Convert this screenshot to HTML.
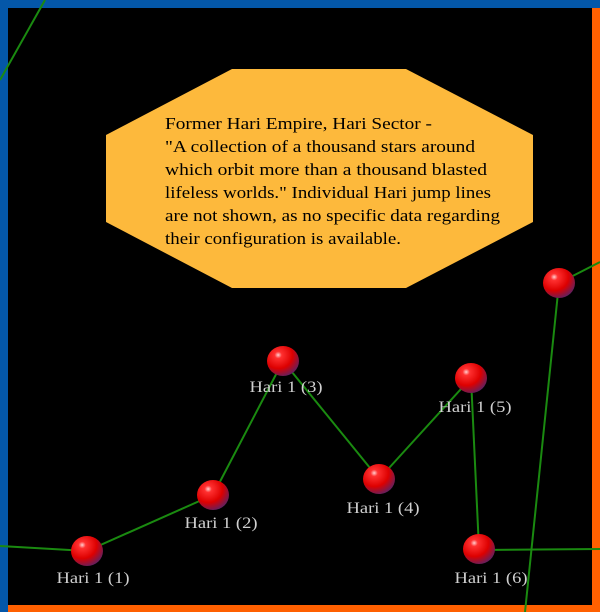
<!DOCTYPE html>
<html><head><style>html,body{margin:0;padding:0;background:#000;}</style></head>
<body>
<svg width="600" height="612" xmlns="http://www.w3.org/2000/svg" style="display:block">
<defs>
<radialGradient id="g" cx="0.35" cy="0.3" r="0.75">
<stop offset="0" stop-color="#ffd0d0"/>
<stop offset="0.15" stop-color="#ff3030"/>
<stop offset="0.6" stop-color="#dd0000"/>
<stop offset="1" stop-color="#602060"/>
</radialGradient>
</defs>
<rect width="600" height="612" fill="#000"/>
<rect x="0" y="0" width="600" height="8" fill="#0457a8"/>
<rect x="0" y="0" width="8" height="612" fill="#0457a8"/>
<rect x="592" y="8" width="8" height="604" fill="#ff6000"/>
<rect x="8" y="605" width="592" height="7" fill="#ff6000"/>
<g stroke="#1a8a10" stroke-width="2" fill="none">
<line x1="45" y1="0" x2="0" y2="80"/>
<line x1="0" y1="546" x2="87" y2="551"/>
<line x1="87" y1="551" x2="213" y2="495"/>
<line x1="213" y1="495" x2="283" y2="361"/>
<line x1="283" y1="361" x2="379" y2="479"/>
<line x1="379" y1="479" x2="471" y2="378"/>
<line x1="471" y1="378" x2="479" y2="549"/>
<line x1="479" y1="550" x2="600" y2="549"/>
<line x1="559" y1="283" x2="600" y2="262"/>
<line x1="559" y1="283" x2="525" y2="612"/>
</g>
<polygon points="232,69 406,69 533,135 533,222 406,288 232,288 106,222 106,135" fill="#fdb93c"/>
<g font-family="Liberation Serif, serif" font-size="16.5" fill="#000">
<text x="165" y="129" textLength="267" lengthAdjust="spacingAndGlyphs">Former Hari Empire, Hari Sector -</text>
<text x="165" y="152" textLength="310" lengthAdjust="spacingAndGlyphs">"A collection of a thousand stars around</text>
<text x="165" y="175" textLength="322" lengthAdjust="spacingAndGlyphs">which orbit more than a thousand blasted</text>
<text x="165" y="198" textLength="326" lengthAdjust="spacingAndGlyphs">lifeless worlds." Individual Hari jump lines</text>
<text x="165" y="221" textLength="335" lengthAdjust="spacingAndGlyphs">are not shown, as no specific data regarding</text>
<text x="165" y="244" textLength="236" lengthAdjust="spacingAndGlyphs">their configuration is available.</text>
</g>
<g fill="url(#g)">
<ellipse cx="87" cy="551" rx="16" ry="15"/>
<ellipse cx="213" cy="495" rx="16" ry="15"/>
<ellipse cx="283" cy="361" rx="16" ry="15"/>
<ellipse cx="379" cy="479" rx="16" ry="15"/>
<ellipse cx="471" cy="378" rx="16" ry="15"/>
<ellipse cx="479" cy="549" rx="16" ry="15"/>
<ellipse cx="559" cy="283" rx="16" ry="15"/>
</g>
<g font-family="Liberation Serif, serif" font-size="16" fill="#d0d0d0" text-anchor="middle">
<text x="93" y="583" textLength="73" lengthAdjust="spacingAndGlyphs">Hari 1 (1)</text>
<text x="221" y="528" textLength="73" lengthAdjust="spacingAndGlyphs">Hari 1 (2)</text>
<text x="286" y="392" textLength="73" lengthAdjust="spacingAndGlyphs">Hari 1 (3)</text>
<text x="383" y="513" textLength="73" lengthAdjust="spacingAndGlyphs">Hari 1 (4)</text>
<text x="475" y="412" textLength="73" lengthAdjust="spacingAndGlyphs">Hari 1 (5)</text>
<text x="491" y="583" textLength="73" lengthAdjust="spacingAndGlyphs">Hari 1 (6)</text>
</g>
</svg>
</body></html>
